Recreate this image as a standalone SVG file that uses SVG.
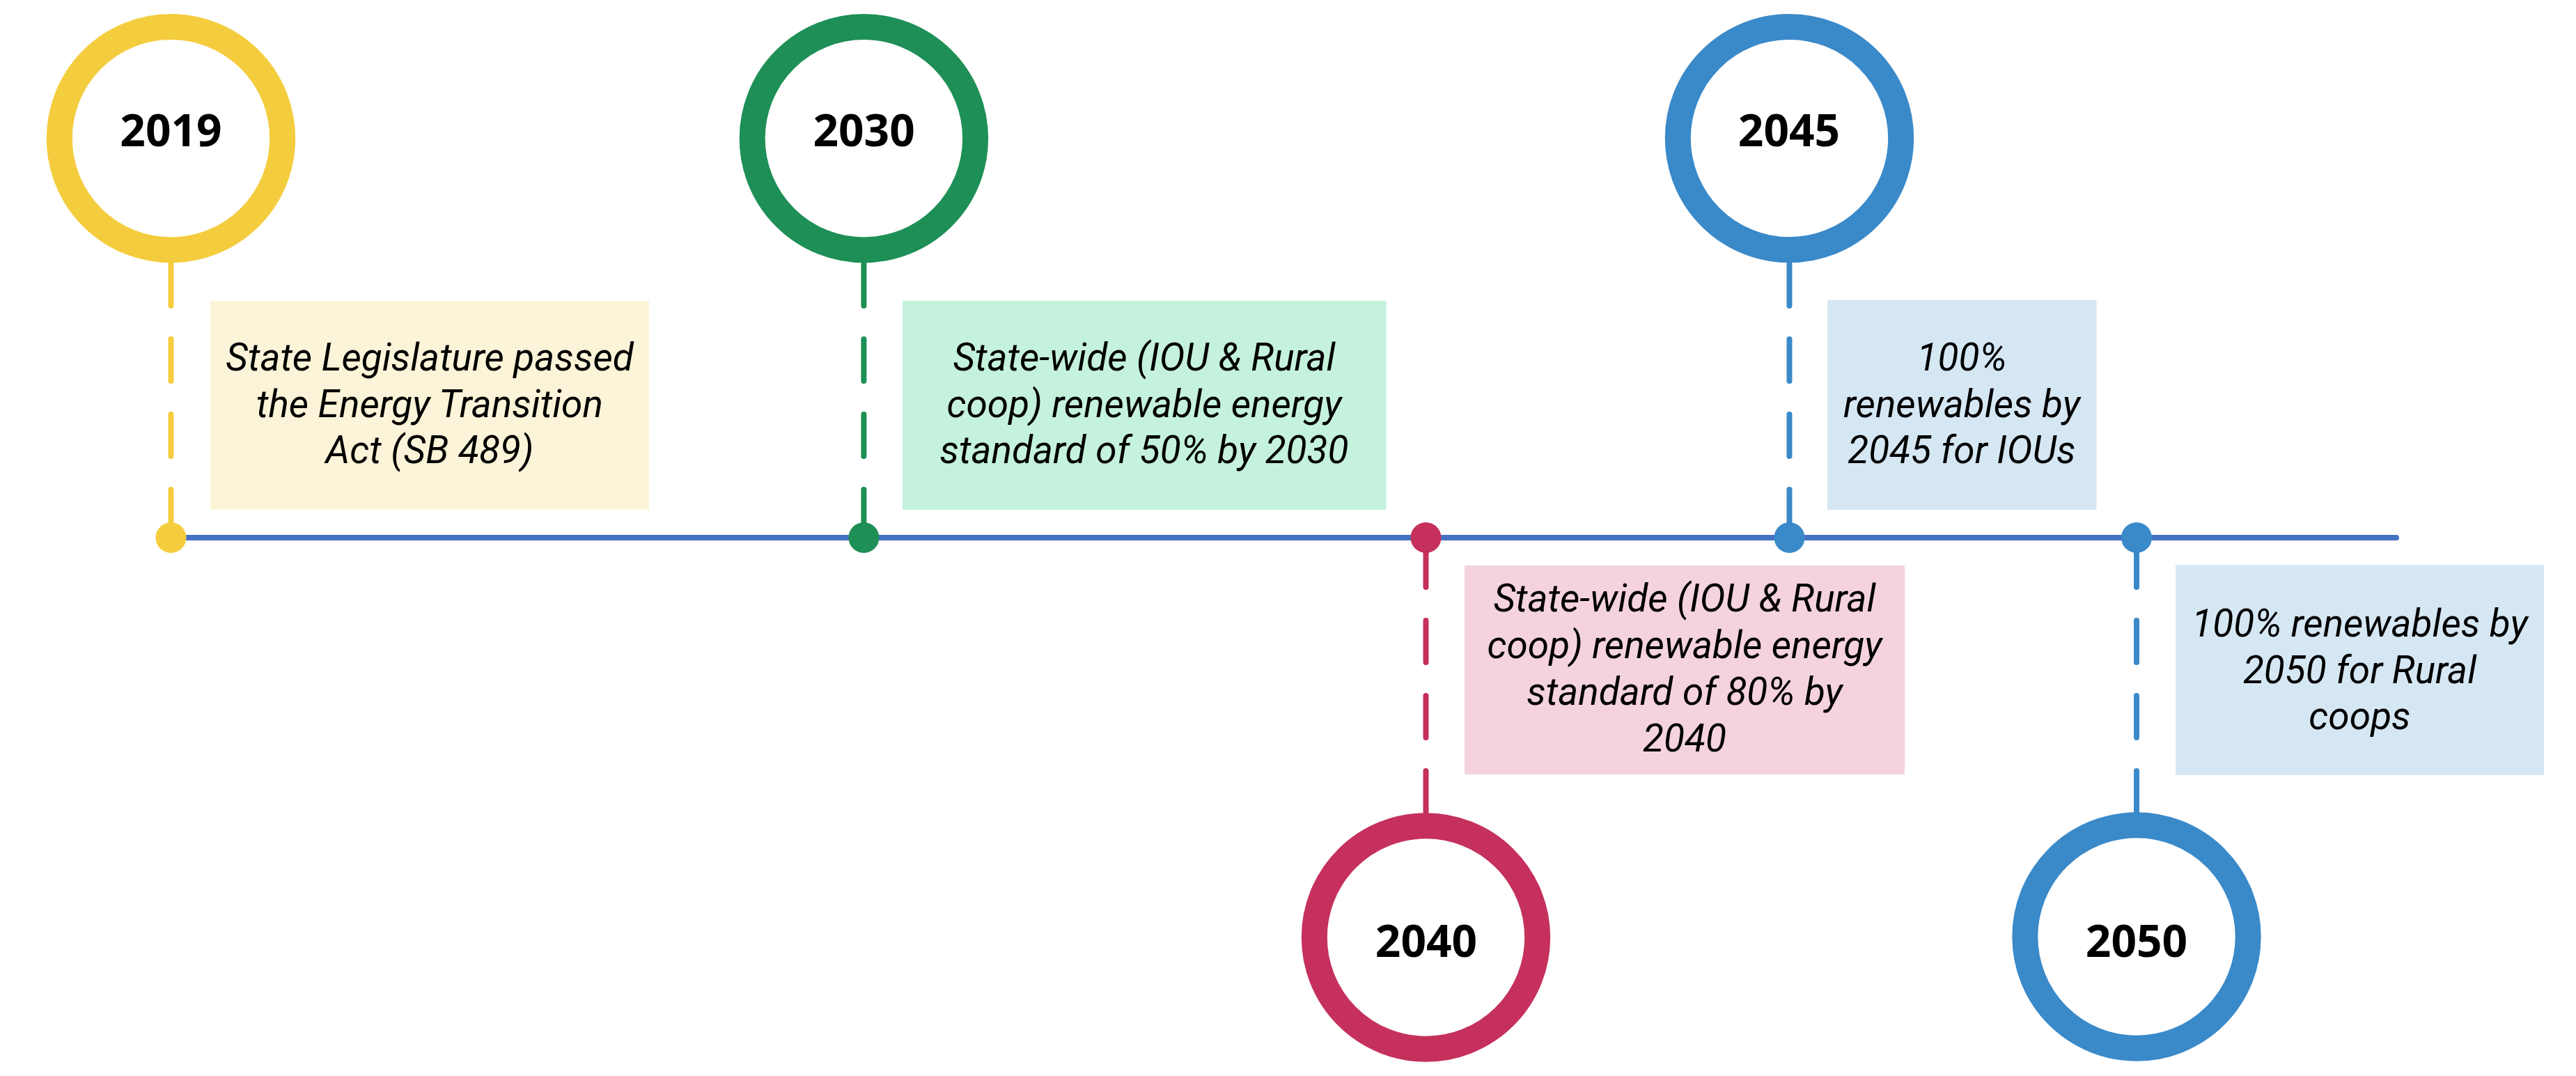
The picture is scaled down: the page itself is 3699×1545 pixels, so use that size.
<svg xmlns="http://www.w3.org/2000/svg" width="3699" height="1545" viewBox="0 0 3699 1545">
<style>
.ring{fill:#FFFFFF;stroke-width:37}
.year{font-family:"Open Sans","Noto Sans","Liberation Sans",sans-serif;font-weight:bold;font-size:64px;fill:#000000;text-anchor:middle}
.desc{font-family:Roboto,"Open Sans","Liberation Sans",sans-serif;font-style:italic;font-size:55px;fill:#000000;text-anchor:middle}
.conn{fill:none;stroke-width:8;stroke-linecap:round;stroke-dasharray:60 48}
.yellow{stroke:#F4CD3E}
.green{stroke:#1E8F56}
.crimson{stroke:#C5305D}
.blue{stroke:#3A89C9}
</style>
<rect x="0" y="0" width="3699" height="1545" fill="#FFFFFF"/>
<g id="connectors">
<path class="conn yellow" d="M245.5,379 L245.5,772"/>
<path class="conn green" d="M1240.4,379 L1240.4,772"/>
<path class="conn crimson" d="M2047.5,1167 L2047.5,772"/>
<path class="conn blue" d="M2569.5,379 L2569.5,772"/>
<path class="conn blue" d="M3068,1167 L3068,772"/>
</g>
<g id="timeline">
<line x1="245.5" y1="772" x2="3441" y2="772" stroke="#4472C4" stroke-width="8" stroke-linecap="round"/>
<circle cx="245.5" cy="772" r="22" fill="#F4CD3E"/>
<circle cx="1240.4" cy="772" r="22" fill="#1E8F56"/>
<circle cx="2047.5" cy="772" r="22" fill="#C5305D"/>
<circle cx="2569.5" cy="772" r="22" fill="#3A89C9"/>
<circle cx="3068" cy="772" r="22" fill="#3A89C9"/>
</g>
<g id="node-2019">
<circle class="ring yellow" cx="245.5" cy="198.7" r="160.2"/>
<text class="year" x="245.5" y="209.5">2019</text>
</g>
<g id="box-2019">
<rect x="302" y="432" width="630" height="300" fill="#FCF4D8"/>
<text class="desc" x="617" y="532"><tspan x="617" y="532">State Legislature passed</tspan><tspan x="617" y="598.5">the Energy Transition</tspan><tspan x="617" y="665">Act (SB 489)</tspan></text>
</g>
<g id="node-2030">
<circle class="ring green" cx="1240.4" cy="198.7" r="160.2"/>
<text class="year" x="1240.6" y="209.5">2030</text>
</g>
<g id="box-2030">
<rect x="1296" y="432" width="694.5" height="300" fill="#C5F2DC"/>
<text class="desc" x="1643" y="532"><tspan x="1643" y="532">State-wide (IOU &amp; Rural</tspan><tspan x="1643" y="598.5">coop) renewable energy</tspan><tspan x="1643" y="665">standard of 50% by 2030</tspan></text>
</g>
<g id="node-2040">
<circle class="ring crimson" cx="2047.5" cy="1346" r="160.2"/>
<text class="year" x="2048" y="1374">2040</text>
</g>
<g id="box-2040">
<rect x="2103" y="812" width="632" height="300" fill="#F4D3DC"/>
<text class="desc" x="2419" y="878"><tspan x="2419" y="878">State-wide (IOU &amp; Rural</tspan><tspan x="2419" y="945">coop) renewable energy</tspan><tspan x="2419" y="1012">standard of 80% by</tspan><tspan x="2419" y="1079">2040</tspan></text>
</g>
<g id="node-2045">
<circle class="ring blue" cx="2569.5" cy="198.6" r="160.2"/>
<text class="year" x="2569" y="209.5">2045</text>
</g>
<g id="box-2045">
<rect x="2624" y="431" width="386.5" height="301" fill="#D6E7F4"/>
<text class="desc" x="2817" y="532"><tspan x="2817" y="532">100%</tspan><tspan x="2817" y="598.5">renewables by</tspan><tspan x="2817" y="665">2045 for IOUs</tspan></text>
</g>
<g id="node-2050">
<circle class="ring blue" cx="3068" cy="1345" r="160.2"/>
<text class="year" x="3068" y="1374">2050</text>
</g>
<g id="box-2050">
<rect x="3124" y="811" width="529" height="302" fill="#D6E7F4"/>
<text class="desc" x="3388.5" y="914"><tspan x="3388.5" y="914">100% renewables by</tspan><tspan x="3388.5" y="980.5">2050 for Rural</tspan><tspan x="3388.5" y="1047">coops</tspan></text>
</g>
</svg>
